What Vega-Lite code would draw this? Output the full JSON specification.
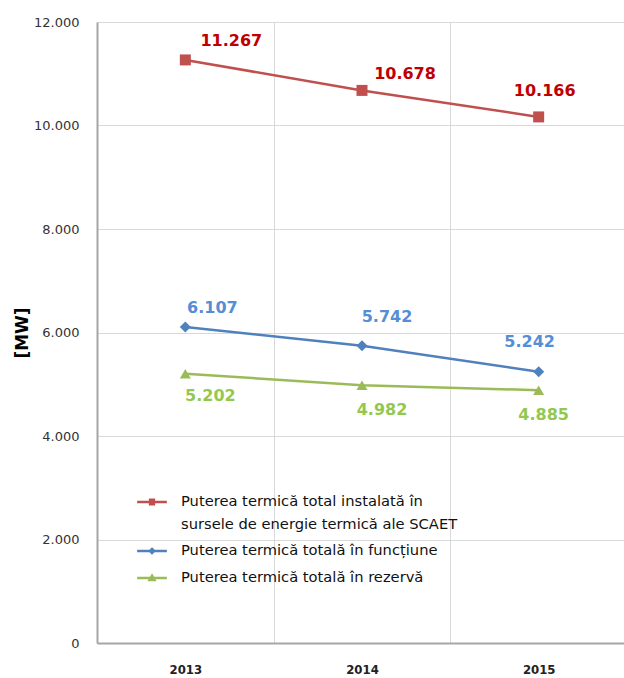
{
  "$schema": "https://vega.github.io/schema/vega-lite/v6.json",
  "width": 530,
  "height": 621,
  "autosize": "none",
  "padding": {"left": 97, "top": 22, "right": 0, "bottom": 35},
  "data": {
    "values": [
      {"year": "2013", "s": "R", "series": "Puterea termică total instalată în sursele de energie termică ale SCAET", "value": 11267},
      {"year": "2014", "s": "R", "series": "Puterea termică total instalată în sursele de energie termică ale SCAET", "value": 10678},
      {"year": "2015", "s": "R", "series": "Puterea termică total instalată în sursele de energie termică ale SCAET", "value": 10166},
      {"year": "2013", "s": "B", "series": "Puterea termică totală în funcțiune", "value": 6107},
      {"year": "2014", "s": "B", "series": "Puterea termică totală în funcțiune", "value": 5742},
      {"year": "2015", "s": "B", "series": "Puterea termică totală în funcțiune", "value": 5242},
      {"year": "2013", "s": "G", "series": "Puterea termică totală în rezervă", "value": 5202},
      {"year": "2014", "s": "G", "series": "Puterea termică totală în rezervă", "value": 4982},
      {"year": "2015", "s": "G", "series": "Puterea termică totală în rezervă", "value": 4885}
    ]
  },
  "encoding": {
    "x": {
      "field": "year", "type": "nominal",
      "scale": {"paddingInner": 0, "paddingOuter": 0},
      "axis": {
        "title": null, "labelAngle": 0, "tickBand": "extent", "grid": true,
        "gridColor": "#D9D9D9", "gridWidth": 1, "ticks": false,
        "domainColor": "#A6A6A6", "domainWidth": 2,
        "labelFont": "DejaVu Sans Condensed", "labelFontSize": 13, "labelFontWeight": "bold", "labelColor": "#222222", "labelPadding": 20
      }
    },
    "y": {
      "field": "value", "type": "quantitative",
      "scale": {"domain": [0, 12000]},
      "axis": {
        "values": [0, 2000, 4000, 6000, 8000, 10000, 12000],
        "format": ",d", "grid": true, "gridColor": "#D9D9D9", "gridWidth": 1, "ticks": false,
        "domainColor": "#A6A6A6", "domainWidth": 2,
        "labelFont": "DejaVu Sans", "labelFontSize": 13, "labelColor": "#333333", "labelPadding": 18,
        "title": "[MW]", "titleFont": "DejaVu Sans", "titleFontSize": 17, "titleFontWeight": "bold",
        "titleColor": "#000000", "titlePadding": 2
      }
    }
  },
  "layer": [
    {
      "mark": {"type": "line", "strokeWidth": 2.5},
      "encoding": {
        "color": {
          "field": "series", "type": "nominal",
          "scale": {
            "domain": ["Puterea termică total instalată în sursele de energie termică ale SCAET", "Puterea termică totală în funcțiune", "Puterea termică totală în rezervă"],
            "range": ["#C0504D", "#4F81BD", "#9BBB59"]
          },
          "legend": null
        }
      }
    },
    {
      "mark": {"type": "point", "filled": true, "opacity": 1, "size": 121},
      "encoding": {
        "color": {
          "field": "series", "type": "nominal",
          "scale": {
            "domain": ["Puterea termică total instalată în sursele de energie termică ale SCAET", "Puterea termică totală în funcțiune", "Puterea termică totală în rezervă"],
            "range": ["#C0504D", "#4F81BD", "#9BBB59"]
          },
          "legend": null
        },
        "shape": {
          "field": "series", "type": "nominal",
          "scale": {
            "domain": ["Puterea termică total instalată în sursele de energie termică ale SCAET", "Puterea termică totală în funcțiune", "Puterea termică totală în rezervă"],
            "range": ["square", "diamond", "triangle-up"]
          },
          "legend": null
        }
      }
    },
    {
      "mark": {"type": "point", "filled": true, "opacity": 0, "strokeWidth": 2.5},
      "encoding": {
        "fill": {
          "field": "series", "type": "nominal",
          "scale": {
            "domain": ["Puterea termică total instalată în sursele de energie termică ale SCAET", "Puterea termică totală în funcțiune", "Puterea termică totală în rezervă"],
            "range": ["#C0504D", "#4F81BD", "#9BBB59"]
          },
          "legend": {
            "title": null, "orient": "none", "legendX": 40, "legendY": 465,
            "symbolSize": 729, "symbolStrokeWidth": 2.5, "symbolOpacity": 1,
            "labelFont": "DejaVu Sans", "labelFontSize": 14.7, "labelColor": "#111111", "labelOffset": 14,
            "labelLimit": 500, "rowPadding": 4, "padding": 0,
            "labelExpr": "indexof(datum.label, 'SCAET') >= 0 ? ['Puterea termică total instalată în', 'sursele de energie termică ale SCAET'] : datum.label",
            "encoding": {"labels": {"lineHeight": {"value": 23}}}
          }
        },
        "stroke": {
          "field": "series", "type": "nominal",
          "scale": {
            "domain": ["Puterea termică total instalată în sursele de energie termică ale SCAET", "Puterea termică totală în funcțiune", "Puterea termică totală în rezervă"],
            "range": ["#C0504D", "#4F81BD", "#9BBB59"]
          },
          "legend": {
            "title": null, "orient": "none", "legendX": 40, "legendY": 465,
            "symbolSize": 729, "symbolStrokeWidth": 2.5, "symbolOpacity": 1,
            "labelFont": "DejaVu Sans", "labelFontSize": 14.7, "labelColor": "#111111", "labelOffset": 14,
            "labelLimit": 500, "rowPadding": 4, "padding": 0,
            "labelExpr": "indexof(datum.label, 'SCAET') >= 0 ? ['Puterea termică total instalată în', 'sursele de energie termică ale SCAET'] : datum.label",
            "encoding": {"labels": {"lineHeight": {"value": 23}}}
          }
        },
        "shape": {
          "field": "series", "type": "nominal",
          "scale": {
            "domain": ["Puterea termică total instalată în sursele de energie termică ale SCAET", "Puterea termică totală în funcțiune", "Puterea termică totală în rezervă"],
            "range": ["M-1.1,0H1.1M-0.14,-0.16H0.14V0.16H-0.14Z", "M-1.1,0H1.1M0,-0.15L0.15,0L0,0.15L-0.15,0Z", "M-1.1,0H1.1M0,-0.17L0.18,0.15H-0.18Z"]
          },
          "legend": {
            "title": null, "orient": "none", "legendX": 40, "legendY": 465,
            "symbolSize": 729, "symbolStrokeWidth": 2.5, "symbolOpacity": 1,
            "labelFont": "DejaVu Sans", "labelFontSize": 14.7, "labelColor": "#111111", "labelOffset": 14,
            "labelLimit": 500, "rowPadding": 4, "padding": 0,
            "labelExpr": "indexof(datum.label, 'SCAET') >= 0 ? ['Puterea termică total instalată în', 'sursele de energie termică ale SCAET'] : datum.label",
            "encoding": {"labels": {"lineHeight": {"value": 23}}}
          }
        }
      }
    },
    {"transform": [{"filter": "datum.s == 'R' && datum.year == '2013'"}], "mark": {"type": "text", "font": "DejaVu Sans", "fontSize": 16, "fontWeight": "bold", "color": "#C00000", "dx": 46, "dy": -19}, "encoding": {"text": {"field": "value", "type": "quantitative", "format": ",d"}}},
    {"transform": [{"filter": "datum.s == 'R' && datum.year == '2014'"}], "mark": {"type": "text", "font": "DejaVu Sans", "fontSize": 16, "fontWeight": "bold", "color": "#C00000", "dx": 43, "dy": -16}, "encoding": {"text": {"field": "value", "type": "quantitative", "format": ",d"}}},
    {"transform": [{"filter": "datum.s == 'R' && datum.year == '2015'"}], "mark": {"type": "text", "font": "DejaVu Sans", "fontSize": 16, "fontWeight": "bold", "color": "#C00000", "dx": 6, "dy": -26}, "encoding": {"text": {"field": "value", "type": "quantitative", "format": ",d"}}},
    {"transform": [{"filter": "datum.s == 'B' && datum.year == '2013'"}], "mark": {"type": "text", "font": "DejaVu Sans", "fontSize": 16, "fontWeight": "bold", "color": "#558ED5", "dx": 27, "dy": -19}, "encoding": {"text": {"field": "value", "type": "quantitative", "format": ",d"}}},
    {"transform": [{"filter": "datum.s == 'B' && datum.year == '2014'"}], "mark": {"type": "text", "font": "DejaVu Sans", "fontSize": 16, "fontWeight": "bold", "color": "#558ED5", "dx": 25, "dy": -29}, "encoding": {"text": {"field": "value", "type": "quantitative", "format": ",d"}}},
    {"transform": [{"filter": "datum.s == 'B' && datum.year == '2015'"}], "mark": {"type": "text", "font": "DejaVu Sans", "fontSize": 16, "fontWeight": "bold", "color": "#558ED5", "dx": -9, "dy": -30}, "encoding": {"text": {"field": "value", "type": "quantitative", "format": ",d"}}},
    {"transform": [{"filter": "datum.s == 'G' && datum.year == '2013'"}], "mark": {"type": "text", "font": "DejaVu Sans", "fontSize": 16, "fontWeight": "bold", "color": "#92C850", "dx": 25, "dy": 22}, "encoding": {"text": {"field": "value", "type": "quantitative", "format": ",d"}}},
    {"transform": [{"filter": "datum.s == 'G' && datum.year == '2014'"}], "mark": {"type": "text", "font": "DejaVu Sans", "fontSize": 16, "fontWeight": "bold", "color": "#92C850", "dx": 20, "dy": 25}, "encoding": {"text": {"field": "value", "type": "quantitative", "format": ",d"}}},
    {"transform": [{"filter": "datum.s == 'G' && datum.year == '2015'"}], "mark": {"type": "text", "font": "DejaVu Sans", "fontSize": 16, "fontWeight": "bold", "color": "#92C850", "dx": 5, "dy": 25}, "encoding": {"text": {"field": "value", "type": "quantitative", "format": ",d"}}}
  ],
  "resolve": {"scale": {"color": "independent", "shape": "independent", "fill": "independent", "stroke": "independent"}},
  "config": {
    "view": {"stroke": null},
    "background": "#FFFFFF",
    "locale": {"number": {"decimal": ",", "thousands": ".", "grouping": [3], "currency": ["", ""]}}
  }
}
